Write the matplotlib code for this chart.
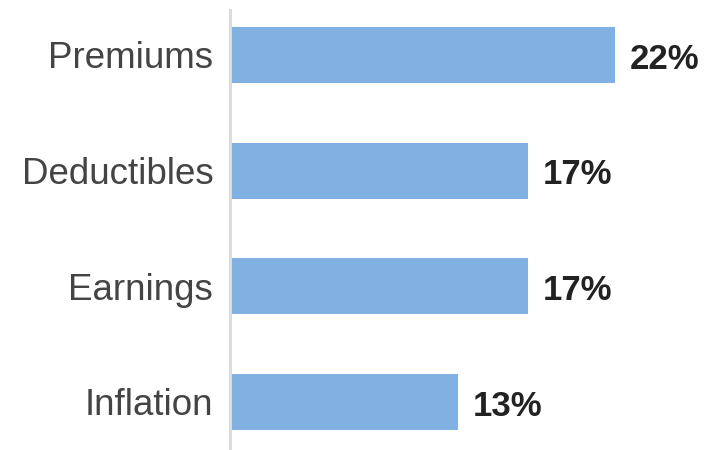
import matplotlib
matplotlib.use("Agg")
import matplotlib.pyplot as plt

# share of respondents naming each cost pressure
categories = ["Premiums", "Deductibles", "Earnings", "Inflation"]
values = [22, 17, 17, 13]
value_labels = ["22%", "17%", "17%", "13%"]

bar_color = "#80b1e2"

plt.rcParams["font.family"] = ["Liberation Sans", "DejaVu Sans"]

fig = plt.figure(figsize=(7.09, 4.5), dpi=100)
ax = fig.add_axes([230 / 709, 0.0, 1 - 230 / 709, 440 / 450])

ypos = list(range(len(categories)))
ax.barh(ypos, values, height=0.484, color=bar_color, left=0)

for y, v, lab in zip(ypos, values, value_labels):
    ax.text(v + 0.85, y + 0.035, lab, va="center", ha="left",
            fontsize=25, fontweight="bold", color="#222222")

ax.set_xlim(0, 479 / 17.5)
ax.set_ylim(3.415, -0.389)

ax.set_yticks(ypos)
ax.set_yticklabels(categories, fontsize=26.5, color="#444444")
ax.tick_params(axis="y", length=0, pad=12)
ax.set_xticks([])

for side in ["top", "right", "bottom"]:
    ax.spines[side].set_visible(False)
ax.spines["left"].set_color("#dcdcdc")
ax.spines["left"].set_linewidth(2.2)

fig.savefig("out.png", dpi=100, facecolor="white")
